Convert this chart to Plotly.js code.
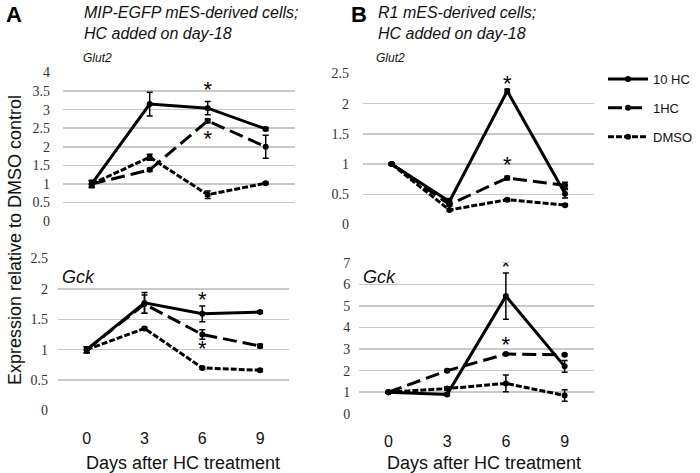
<!DOCTYPE html>
<html>
<head>
<meta charset="utf-8">
<script src="https://cdn.plot.ly/plotly-3.0.1.min.js"></script>
<style>html,body{margin:0;padding:0;background:#fff}#chart{width:700px;height:473px}</style>
</head>
<body>
<div id="chart"></div>
<script>
// ---- data ----
const days = [0, 3, 6, 9];
const dayLabels = ['0', '3', '6', '9'];
const seriesNames = ['10 HC', '1HC', 'DMSO'];

// Panel A (MIP-EGFP) Glut2
const aGlut2_10HC = [1.0, 3.15, 3.04, 2.48];
const aGlut2_10HC_err = [0.10, 0.32, 0.18, 0.04];
const aGlut2_1HC = [1.0, 1.38, 2.70, 2.00];
const aGlut2_1HC_err = [0.08, 0.04, 0.05, 0.31];
const aGlut2_DMSO = [1.0, 1.72, 0.71, 1.02];
const aGlut2_DMSO_err = [0.08, 0.08, 0.10, 0.03];

// Panel A Gck
const aGck_10HC = [1.0, 1.77, 1.59, 1.62];
const aGck_10HC_err = [0.05, 0.17, 0.13, 0.02];
const aGck_1HC = [1.0, 1.75, 1.25, 1.06];
const aGck_1HC_err = [0.05, 0.15, 0.08, 0.03];
const aGck_DMSO = [1.0, 1.35, 0.70, 0.66];
const aGck_DMSO_err = [0.05, 0.02, 0.02, 0.02];

// Panel B (R1) Glut2
const bGlut2_10HC = [1.0, 0.38, 2.21, 0.51];
const bGlut2_10HC_err = [0.02, 0.05, 0.03, 0.07];
const bGlut2_1HC = [1.0, 0.33, 0.77, 0.65];
const bGlut2_1HC_err = [0.02, 0.03, 0.03, 0.05];
const bGlut2_DMSO = [1.0, 0.24, 0.41, 0.32];
const bGlut2_DMSO_err = [0.02, 0.02, 0.02, 0.02];

// Panel B Gck
const bGck_10HC = [1.0, 0.90, 5.46, 2.20];
const bGck_10HC_err = [0.03, 0.05, 1.07, 0.27];
const bGck_1HC = [1.0, 2.00, 2.77, 2.74];
const bGck_1HC_err = [0.03, 0.05, 0.05, 0.05];
const bGck_DMSO = [1.0, 1.17, 1.41, 0.85];
const bGck_DMSO_err = [0.03, 0.08, 0.39, 0.27];

// significance stars (day, value)
const starsA_glut2_x = [6, 6];
const starsA_glut2_y = [3.50, 2.17];
const starsA_gck_x = [6, 6];
const starsA_gck_y = [1.80, 0.98];
const starsB_glut2_x = [6, 6];
const starsB_glut2_y = [2.30, 0.96];
const starsB_gck_x = [6, 6];
const starsB_gck_y = [6.75, 3.12];

// ---- styles ----
const lineStyles = [
  {color: '#000', width: 3, dash: 'solid'},
  {color: '#000', width: 3, dash: '14px,6px'},
  {color: '#000', width: 3, dash: '6px,2px'}
];

function series(xa, ya, vals, errs, idx, showLegend) {
  return {
    type: 'scatter', mode: 'lines+markers',
    x: days, y: vals,
    xaxis: xa, yaxis: ya,
    name: seriesNames[idx],
    legendgroup: 'g' + idx,
    showlegend: showLegend,
    line: lineStyles[idx],
    marker: {symbol: 'circle', size: 6, color: '#000'},
    error_y: {type: 'data', array: errs, visible: true, color: '#000', thickness: 1.5, width: 3},
    hoverinfo: 'skip'
  };
}
function stars(xa, ya, xs, ys) {
  return {
    type: 'scatter', mode: 'text', x: xs, y: ys, text: xs.map(() => '*'),
    xaxis: xa, yaxis: ya, showlegend: false, hoverinfo: 'skip',
    textposition: 'middle center',
    textfont: {family: 'Liberation Sans, Arial', size: 22, color: '#000'}
  };
}

const data = [
  series('x', 'y', aGlut2_10HC, aGlut2_10HC_err, 0, true),
  series('x', 'y', aGlut2_1HC, aGlut2_1HC_err, 1, true),
  series('x', 'y', aGlut2_DMSO, aGlut2_DMSO_err, 2, true),
  series('x2', 'y2', aGck_10HC, aGck_10HC_err, 0, false),
  series('x2', 'y2', aGck_1HC, aGck_1HC_err, 1, false),
  series('x2', 'y2', aGck_DMSO, aGck_DMSO_err, 2, false),
  series('x3', 'y3', bGlut2_10HC, bGlut2_10HC_err, 0, false),
  series('x3', 'y3', bGlut2_1HC, bGlut2_1HC_err, 1, false),
  series('x3', 'y3', bGlut2_DMSO, bGlut2_DMSO_err, 2, false),
  series('x4', 'y4', bGck_10HC, bGck_10HC_err, 0, false),
  series('x4', 'y4', bGck_1HC, bGck_1HC_err, 1, false),
  series('x4', 'y4', bGck_DMSO, bGck_DMSO_err, 2, false),
  stars('x', 'y', starsA_glut2_x, starsA_glut2_y),
  stars('x2', 'y2', starsA_gck_x, starsA_gck_y),
  stars('x3', 'y3', starsB_glut2_x, starsB_glut2_y),
  stars('x4', 'y4', starsB_gck_x, starsB_gck_y)
];

const W = 700, H = 473;
const px = (a, b) => [a / W, b / W];
const py = (top, bottom) => [1 - bottom / H, 1 - top / H];

function xAxis(dom, anchor, showLabels) {
  return {
    domain: dom, anchor: anchor, range: [-1.5, 10.5],
    showgrid: false, zeroline: false, showline: false,
    tickvals: days, ticktext: dayLabels, showticklabels: showLabels,
    ticks: showLabels ? 'outside' : '', ticklen: 13, tickcolor: 'rgba(0,0,0,0)',
    tickfont: {family: 'Liberation Sans, Arial', size: 16, color: '#111'}
  };
}
function yAxis(dom, anchor, range, dtick, tlen) {
  return {
    domain: dom, anchor: anchor, range: range, dtick: dtick, tick0: 0,
    showgrid: true, gridcolor: '#c8c8c8', gridwidth: 1.5,
    zeroline: false, showline: false,
    ticks: 'outside', ticklen: tlen, tickcolor: 'rgba(0,0,0,0)',
    tickfont: {family: 'Liberation Serif, Times New Roman', size: 14, color: '#333'}
  };
}

const layout = {
  width: W, height: H,
  margin: {l: 0, r: 0, t: 0, b: 0},
  paper_bgcolor: '#fff', plot_bgcolor: 'rgba(0,0,0,0)',
  showlegend: true,
  legend: {
    x: 603 / W, y: 1 - 64 / H, xanchor: 'left', yanchor: 'top',
    traceorder: 'grouped', tracegroupgap: 9, itemwidth: 40,
    font: {family: 'Liberation Sans, Arial', size: 13, color: '#111'},
    bgcolor: 'rgba(0,0,0,0)'
  },
  xaxis: xAxis(px(62.7, 294.7), 'y', false),
  yaxis: yAxis(py(72.3, 221.3), 'x', [-0.005, 4.005], 0.5, 9),
  xaxis2: xAxis(px(57.8, 289), 'y2', true),
  yaxis2: yAxis(py(258.3, 410.7), 'x2', [-0.004, 2.504], 0.5, 6),
  xaxis3: xAxis(px(362.7, 594), 'y3', false),
  yaxis3: yAxis(py(73.3, 224.7), 'x3', [-0.004, 2.504], 0.5, 10),
  xaxis4: xAxis(px(359, 594), 'y4', true),
  yaxis4: yAxis(py(262.7, 414), 'x4', [-0.01, 7.01], 1, 5),
  annotations: [
    {text: '<b>A</b>', x: 4 / W, y: 1 - 14 / H, xref: 'paper', yref: 'paper', xanchor: 'left', yanchor: 'middle', showarrow: false, font: {family: 'Liberation Sans, Arial', size: 22, color: '#000'}},
    {text: '<b>B</b>', x: 349 / W, y: 1 - 14 / H, xref: 'paper', yref: 'paper', xanchor: 'left', yanchor: 'middle', showarrow: false, font: {family: 'Liberation Sans, Arial', size: 22, color: '#000'}},
    {text: '<i>MIP-EGFP mES-derived cells;<br>HC added on day-18</i>', x: 82 / W, y: 1 - 2 / H, xref: 'paper', yref: 'paper', xanchor: 'left', yanchor: 'top', align: 'left', showarrow: false, font: {family: 'Liberation Sans, Arial', size: 16, color: '#111'}},
    {text: '<i>R1 mES-derived cells;<br>HC added on day-18</i>', x: 376 / W, y: 1 - 2 / H, xref: 'paper', yref: 'paper', xanchor: 'left', yanchor: 'top', align: 'left', showarrow: false, font: {family: 'Liberation Sans, Arial', size: 16, color: '#111'}},
    {text: '<i>Glut2</i>', x: 81 / W, y: 1 - 58 / H, xref: 'paper', yref: 'paper', xanchor: 'left', yanchor: 'middle', showarrow: false, font: {family: 'Liberation Sans, Arial', size: 12, color: '#111'}},
    {text: '<i>Glut2</i>', x: 374 / W, y: 1 - 58 / H, xref: 'paper', yref: 'paper', xanchor: 'left', yanchor: 'middle', showarrow: false, font: {family: 'Liberation Sans, Arial', size: 12, color: '#111'}},
    {text: '<i>Gck</i>', x: 60 / W, y: 1 - 277 / H, xref: 'paper', yref: 'paper', xanchor: 'left', yanchor: 'middle', showarrow: false, font: {family: 'Liberation Sans, Arial', size: 18, color: '#111'}},
    {text: '<i>Gck</i>', x: 361 / W, y: 1 - 277 / H, xref: 'paper', yref: 'paper', xanchor: 'left', yanchor: 'middle', showarrow: false, font: {family: 'Liberation Sans, Arial', size: 18, color: '#111'}},
    {text: 'Days after HC treatment', x: 183 / W, y: 1 - 463 / H, xref: 'paper', yref: 'paper', xanchor: 'center', yanchor: 'middle', showarrow: false, font: {family: 'Liberation Sans, Arial', size: 18, color: '#111'}},
    {text: 'Days after HC treatment', x: 484 / W, y: 1 - 463 / H, xref: 'paper', yref: 'paper', xanchor: 'center', yanchor: 'middle', showarrow: false, font: {family: 'Liberation Sans, Arial', size: 18, color: '#111'}},
    {text: 'Expression relative to DMSO control', x: 15 / W, y: 1 - 240 / H, xref: 'paper', yref: 'paper', xanchor: 'center', yanchor: 'middle', textangle: -90, showarrow: false, font: {family: 'Liberation Sans, Arial', size: 18, color: '#111'}}
  ]
};

Plotly.newPlot('chart', data, layout, {displayModeBar: false, staticPlot: true});
</script>
</body>
</html>
